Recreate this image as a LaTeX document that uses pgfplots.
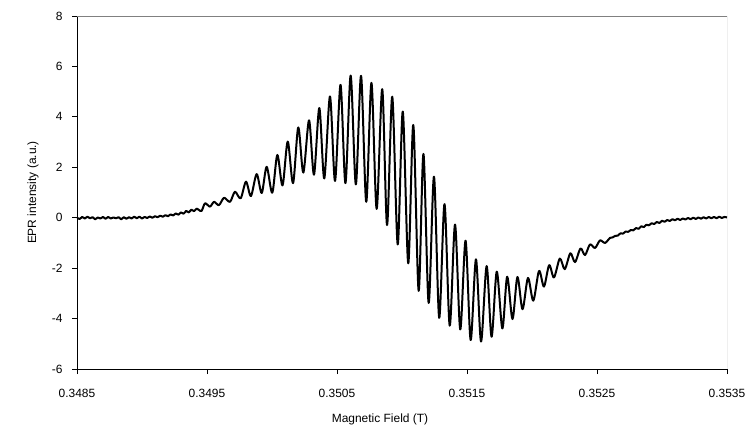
\documentclass[border=0pt]{standalone}
\usepackage{pgfplots}
\pgfplotsset{compat=1.18}
\usepackage{fontspec}
\setmainfont{Liberation Sans}

% First-derivative EPR spectrum: field (T) vs. intensity (a.u.)
\pgfplotstableread{
B        I
0.348500  0.00
0.348520 -0.05
0.348540  0.03
0.348560 -0.03
0.348580  0.04
0.348600 -0.02
0.348620  0.02
0.348640 -0.06
0.348660  0.01
0.348680 -0.03
0.348700  0.03
0.348720 -0.04
0.348740  0.03
0.348760 -0.03
0.348780  0.01
0.348800 -0.02
0.348820  0.02
0.348840 -0.06
0.348860  0.02
0.348880 -0.04
0.348900  0.02
0.348920 -0.03
0.348940  0.04
0.348960 -0.02
0.348980  0.04
0.349000 -0.03
0.349020  0.03
0.349040 -0.01
0.349060  0.05
0.349080  0.00
0.349100  0.06
0.349120  0.02
0.349140  0.08
0.349160  0.04
0.349180  0.10
0.349200  0.06
0.349220  0.13
0.349240  0.09
0.349260  0.17
0.349280  0.12
0.349300  0.21
0.349320  0.16
0.349340  0.27
0.349360  0.21
0.349380  0.32
0.349400  0.26
0.349420  0.36
0.349440  0.30
0.349459  0.27
0.349485  0.57
0.349523  0.44
0.349554  0.63
0.349592  0.50
0.349631  0.79
0.349677  0.63
0.349715  1.03
0.349759  0.77
0.349800  1.43
0.349838  0.86
0.349882  1.73
0.349921  0.98
0.349959  2.02
0.350002  0.99
0.350041  2.49
0.350081  1.28
0.350121  3.02
0.350162  1.37
0.350202  3.58
0.350241  1.79
0.350285  3.86
0.350323  1.71
0.350364  4.35
0.350402  1.56
0.350446  4.81
0.350485  1.46
0.350527  5.27
0.350565  1.37
0.350605  5.64
0.350645  1.32
0.350685  5.63
0.350725  0.63
0.350765  5.35
0.350805  0.35
0.350848  5.10
0.350885 -0.29
0.350925  4.80
0.350967 -1.06
0.351006  4.21
0.351048 -1.81
0.351087  3.68
0.351128 -2.90
0.351165  2.53
0.351205 -3.38
0.351246  1.63
0.351286 -3.97
0.351327  0.54
0.351367 -4.28
0.351408 -0.27
0.351448 -4.43
0.351489 -0.91
0.351528 -4.85
0.351569 -1.65
0.351608 -4.91
0.351651 -1.92
0.351689 -4.72
0.351729 -2.14
0.351772 -4.39
0.351809 -2.34
0.351850 -4.02
0.351888 -2.35
0.351927 -3.63
0.351969 -2.39
0.352010 -3.29
0.352054 -2.11
0.352092 -2.73
0.352132 -1.88
0.352169 -2.37
0.352214 -1.62
0.352252 -2.04
0.352295 -1.41
0.352331 -1.76
0.352373 -1.22
0.352408 -1.48
0.352446 -1.06
0.352485 -1.20
0.352523 -0.90
0.352562 -1.00
0.352600 -0.80
0.352620 -0.78
0.352640 -0.72
0.352660 -0.71
0.352680 -0.62
0.352700 -0.63
0.352720 -0.55
0.352740 -0.56
0.352760 -0.49
0.352780 -0.50
0.352800 -0.41
0.352820 -0.44
0.352840 -0.34
0.352860 -0.37
0.352880 -0.28
0.352900 -0.30
0.352920 -0.22
0.352940 -0.25
0.352960 -0.17
0.352980 -0.21
0.353000 -0.12
0.353020 -0.16
0.353040 -0.09
0.353060 -0.13
0.353080 -0.06
0.353100 -0.10
0.353120 -0.04
0.353140 -0.09
0.353160 -0.03
0.353180 -0.07
0.353200 -0.01
0.353220 -0.06
0.353240  0.00
0.353260 -0.05
0.353280  0.01
0.353300 -0.04
0.353320  0.02
0.353340 -0.03
0.353360  0.03
0.353380 -0.02
0.353400  0.03
0.353420 -0.02
0.353440  0.04
0.353460 -0.01
0.353480  0.03
0.353500  0.01
}\spectrum

\begin{document}
\begin{tikzpicture}
\useasboundingbox (-77bp,-60bp) rectangle (678bp,369bp);
\begin{axis}[
  at={(0,0)}, anchor=south west,
  scale only axis,
  width=650bp, height=353bp,
  xmin=0.3485, xmax=0.3535,
  ymin=-6, ymax=8,
  xtick={0.3485,0.3495,0.3505,0.3515,0.3525,0.3535},
  xticklabels={0.3485,0.3495,0.3505,0.3515,0.3525,0.3535},
  ytick={-6,-4,-2,0,2,4,6,8},
  yticklabels={-6,-4,-2,0,2,4,6,8},
  scaled x ticks=false,
  axis x line*=bottom,
  axis y line*=left,
  axis line style={black, line width=0.9bp, -},
  tick align=outside,
  major tick length=5bp,
  tick style={black, line width=0.8bp},
  minor tick num=0,
  tick label style={font=\fontsize{12}{14}\selectfont},
  xticklabel style={yshift=-12bp},
  yticklabel style={xshift=-6bp},
  label style={font=\fontsize{12}{14}\selectfont},
  xlabel={Magnetic Field (T)},
  ylabel={EPR intensity (a.u.)},
  xlabel style={at={(axis description cs:0.5,0)}, anchor=center, yshift=-50bp, xshift=-22bp},
  ylabel style={at={(axis description cs:0,0.5)}, anchor=center, yshift=44bp},
  clip=true,
]
\draw[gray, line width=0.9bp] (rel axis cs:0,1) -- (rel axis cs:1,1) -- (rel axis cs:1,0);
\addplot[black, line width=2bp, smooth, tension=0.5, line join=round] table[x=B, y=I] {\spectrum};
\end{axis}
\end{tikzpicture}
\end{document}
